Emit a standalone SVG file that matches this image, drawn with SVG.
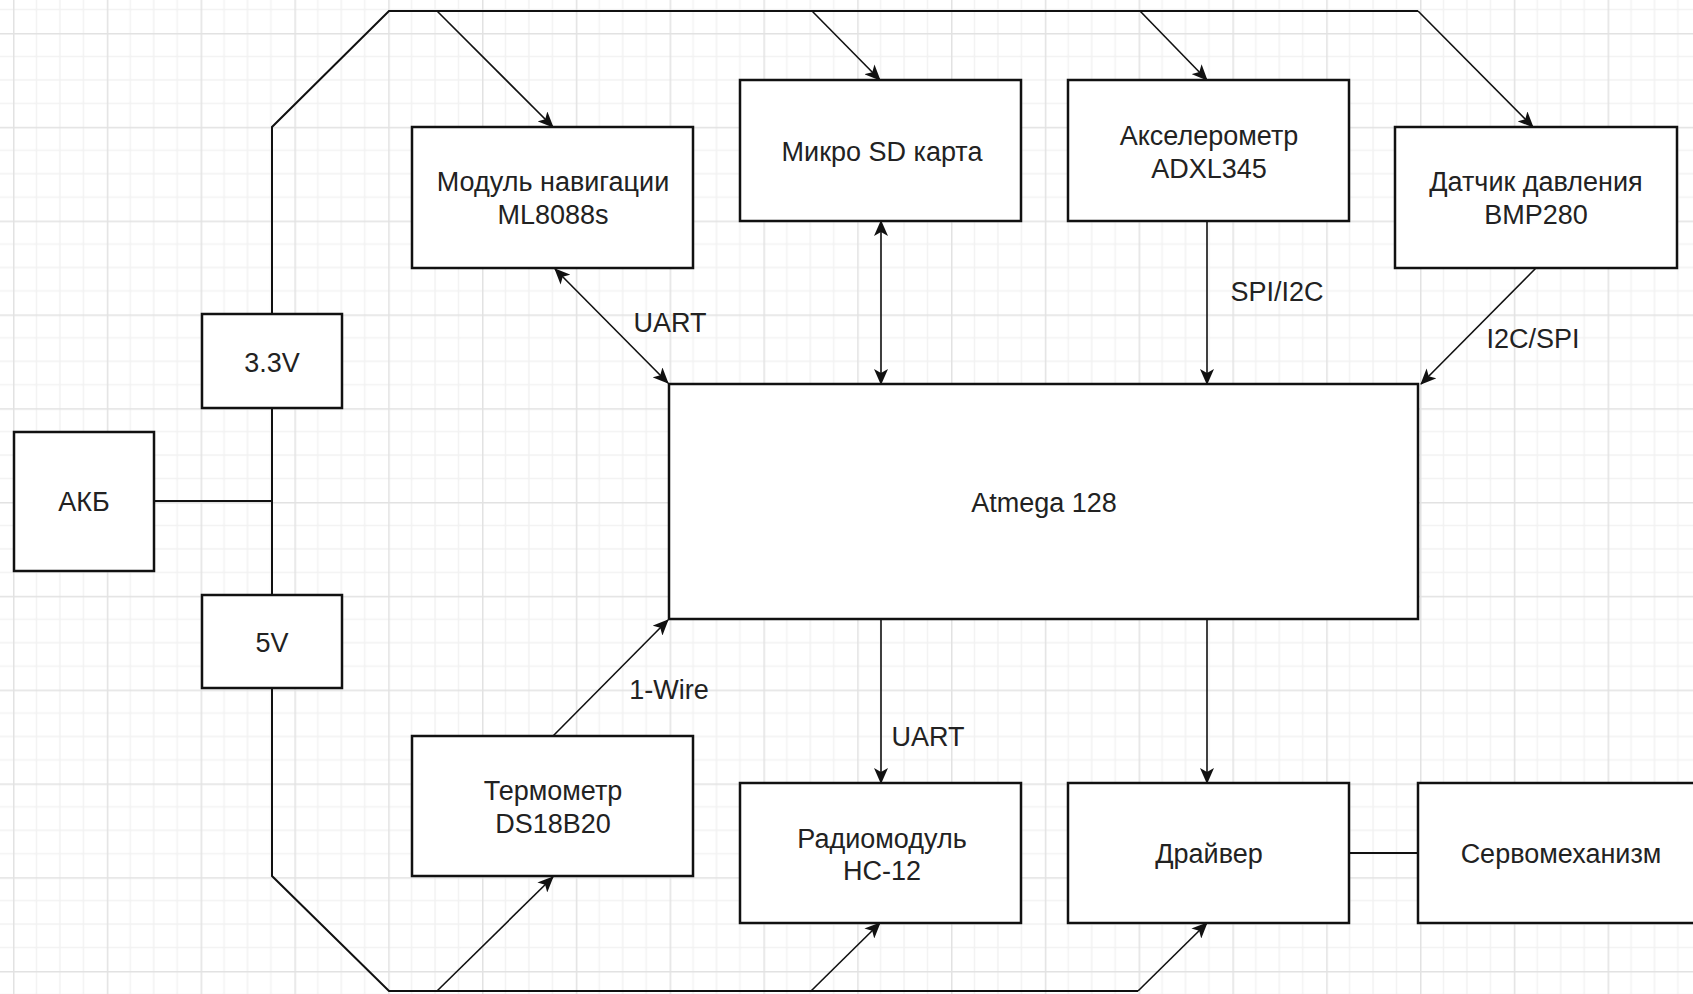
<svg xmlns="http://www.w3.org/2000/svg" width="1693" height="994" viewBox="0 0 1693 994">
<style>
.box{fill:#fff;stroke:#111;stroke-width:2.5}
.bus{fill:none;stroke:#111;stroke-width:2}
.con{fill:none;stroke:#111;stroke-width:1.6}
.arr{marker-end:url(#ah)}
.bi{marker-start:url(#ah);marker-end:url(#ah)}
text{font-family:"Liberation Sans",Arial,sans-serif;font-size:27px;fill:#222;text-anchor:middle}
</style>
<defs>
<marker id="ah" viewBox="0 0 16 14" refX="15" refY="7" markerWidth="16" markerHeight="14" markerUnits="userSpaceOnUse" orient="auto-start-reverse">
<path d="M0,0 L16,7 L0,14 L4,7 z" fill="#111"/>
</marker>
<pattern id="grid" x="13" y="33" width="93.8" height="93.8" patternUnits="userSpaceOnUse">
<path d="M23.45,0V93.8M46.9,0V93.8M70.35,0V93.8M0,23.45H93.8M0,46.9H93.8M0,70.35H93.8" stroke="#f2f2f2" stroke-width="1.5" fill="none"/>
<path d="M0.5,0V93.8M0,0.5H93.8" stroke="#e2e2e2" stroke-width="2" fill="none"/>
</pattern>
</defs>
<rect width="1693" height="994" fill="#fff"/>
<rect width="1693" height="994" fill="url(#grid)"/>

<g id="connectors">
<path class="bus" d="M272,314 L272,127 L389,11 L1418,11"/>
<path class="con arr" d="M1418,11 L1533,127"/>
<path class="bus" d="M272,408 L272,595"/>
<path class="bus" d="M154,501 L272,501"/>
<path class="bus" d="M272,688 L272,876 L389,991 L1138,991"/>
<path class="con arr" d="M1138,991 L1207,923"/>
<path class="con arr" d="M437,11 L553,127"/>
<path class="con arr" d="M812,11 L880,80"/>
<path class="con arr" d="M1140,11 L1207,80"/>
<path class="con arr" d="M437,991 L553,877"/>
<path class="con arr" d="M811,991 L880,923"/>
<path class="con bi" d="M555,269 L668,383"/>
<path class="con bi" d="M881,221 L881,384"/>
<path class="con arr" d="M1207,221 L1207,384"/>
<path class="con arr" d="M1536,268 L1421,384"/>
<path class="con arr" d="M553,736 L668,620"/>
<path class="con arr" d="M881,619 L881,783"/>
<path class="con arr" d="M1207,619 L1207,783"/>
<path class="bus" d="M1349,853 L1418,853"/>
<text x="670" y="332">UART</text>
<text x="1277" y="301">SPI/I2C</text>
<text x="1533" y="348">I2C/SPI</text>
<text x="669" y="699">1-Wire</text>
<text x="928" y="746">UART</text>
</g>

<g id="nav"><rect class="box" x="412" y="127" width="281" height="141"/><text x="553" y="191">Модуль навигации</text><text x="553" y="224">ML8088s</text></g>
<g id="sd"><rect class="box" x="740" y="80" width="281" height="141"/><text x="882" y="161">Микро SD карта</text></g>
<g id="accel"><rect class="box" x="1068" y="80" width="281" height="141"/><text x="1209" y="145">Акселерометр</text><text x="1209" y="178">ADXL345</text></g>
<g id="pressure"><rect class="box" x="1395" y="127" width="282" height="141"/><text x="1536" y="191">Датчик давления</text><text x="1536" y="224">BMP280</text></g>
<g id="v33"><rect class="box" x="202" y="314" width="140" height="94"/><text x="272" y="372">3.3V</text></g>
<g id="akb"><rect class="box" x="14" y="432" width="140" height="139"/><text x="84" y="511">АКБ</text></g>
<g id="v5"><rect class="box" x="202" y="595" width="140" height="93"/><text x="272" y="652">5V</text></g>
<g id="atmega"><rect class="box" x="669" y="384" width="749" height="235"/><text x="1044" y="512">Atmega 128</text></g>
<g id="thermo"><rect class="box" x="412" y="736" width="281" height="140"/><text x="553" y="800">Термометр</text><text x="553" y="833">DS18B20</text></g>
<g id="radio"><rect class="box" x="740" y="783" width="281" height="140"/><text x="882" y="848">Радиомодуль</text><text x="882" y="880">HC-12</text></g>
<g id="driver"><rect class="box" x="1068" y="783" width="281" height="140"/><text x="1209" y="863">Драйвер</text></g>
<g id="servo"><rect class="box" x="1418" y="783" width="290" height="140"/><text x="1561" y="863">Сервомеханизм</text></g>
</svg>
